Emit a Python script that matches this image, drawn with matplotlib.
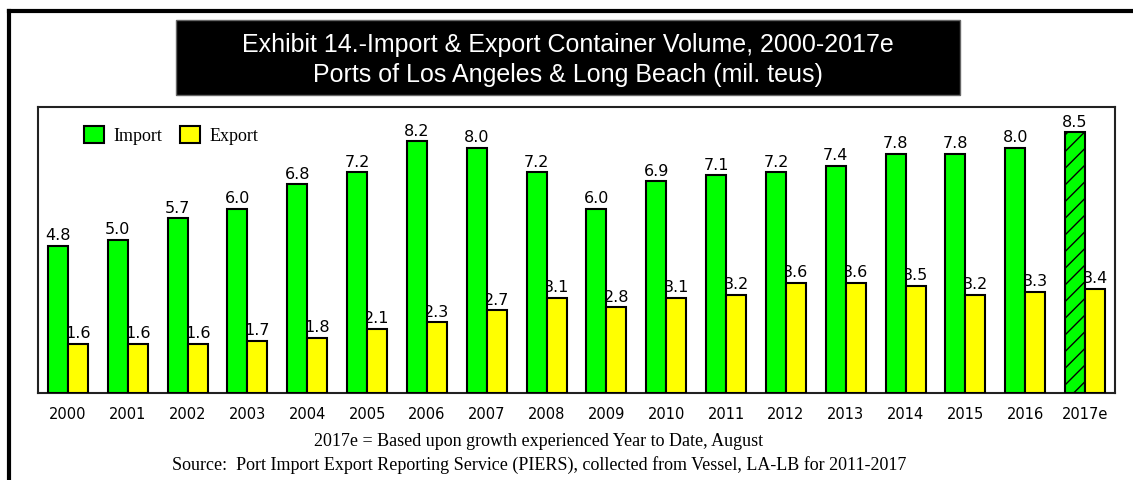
import matplotlib
matplotlib.use("Agg")
import matplotlib.pyplot as plt
from matplotlib.lines import Line2D
from matplotlib.patches import Rectangle, Patch
import numpy as np

years = ["2000", "2001", "2002", "2003", "2004", "2005", "2006", "2007", "2008",
         "2009", "2010", "2011", "2012", "2013", "2014", "2015", "2016", "2017e"]
imports = [4.8, 5.0, 5.7, 6.0, 6.8, 7.2, 8.2, 8.0, 7.2, 6.0, 6.9, 7.1, 7.2, 7.4, 7.8, 7.8, 8.0, 8.5]
exports = [1.6, 1.6, 1.6, 1.7, 1.8, 2.1, 2.3, 2.7, 3.1, 2.8, 3.1, 3.2, 3.6, 3.6, 3.5, 3.2, 3.3, 3.4]
title_lines = ["Exhibit 14.-Import & Export Container Volume, 2000-2017e",
               "Ports of Los Angeles & Long Beach (mil. teus)"]
note_lines = ["2017e = Based upon growth experienced Year to Date, August",
              "Source:  Port Import Export Reporting Service (PIERS), collected from Vessel, LA-LB for 2011-2017"]

W, H = 1133, 480
plt.rcParams["hatch.linewidth"] = 1.0
fig = plt.figure(figsize=(W / 100, H / 100), dpi=100)
fig.patch.set_facecolor("white")

def fx(px):
    return px / W

def fy(py):
    return 1 - py / H

# outer frame (left & top)
fig.add_artist(Line2D([fx(9), fx(9)], [fy(11), 0], color="black", lw=3, transform=fig.transFigure))
fig.add_artist(Line2D([fx(9), 1], [fy(11), fy(11)], color="black", lw=3, transform=fig.transFigure))

# title box
fig.add_artist(Rectangle((fx(176), fy(95)), fx(960) - fx(176), fy(20) - fy(95),
                         facecolor="black", edgecolor="#666666", lw=1, transform=fig.transFigure))
fig.text(fx(568), fy(45), title_lines[0], color="white", ha="center", va="center",
         fontsize=18, family="Liberation Sans")
fig.text(fx(568), fy(75), title_lines[1], color="white", ha="center", va="center",
         fontsize=18, family="Liberation Sans")

ax = fig.add_axes([fx(38), fy(393), fx(1115) - fx(38), fy(107) - fy(393)])
x = np.arange(len(years))
bw = 1 / 3
green = "#00FF00"
yellow = "#FFFF00"

ib = ax.bar(x - bw / 2, imports, width=bw, color=green, edgecolor="black", linewidth=1.5, zorder=3)
eb = ax.bar(x + bw / 2, exports, width=bw, color=yellow, edgecolor="black", linewidth=1.5, zorder=3)
ib[-1].set_hatch("//")

for xi, v in zip(x, imports):
    ax.text(xi - bw / 2, v + 0.08, f"{v:.1f}", ha="center", va="bottom", fontsize=11.5,
            family="DejaVu Sans", zorder=2)
for xi, v in zip(x, exports):
    ax.text(xi + bw / 2, v + 0.08, f"{v:.1f}", ha="center", va="bottom", fontsize=11.5,
            family="DejaVu Sans", zorder=2)

ax.set_xlim(-0.5, len(years) - 0.5)
ax.set_ylim(0, 9.32)
ax.set_yticks([])
ax.set_xticks(x)
ax.set_xticklabels(years, fontsize=10.5, family="DejaVu Sans", fontweight="medium")
ax.tick_params(axis="x", length=0, pad=10)
for s in ax.spines.values():
    s.set_linewidth(1.5)
    s.set_color("#222222")

handles = [Patch(facecolor=green, edgecolor="black", linewidth=1.5, label="Import"),
           Patch(facecolor=yellow, edgecolor="black", linewidth=1.5, label="Export")]
ax.legend(handles=handles, loc="upper left", bbox_to_anchor=(0.028, 0.99), ncol=2, frameon=False,
          prop={"family": "Liberation Serif", "size": 13}, handlelength=1.1, handleheight=1.1,
          handletextpad=0.5, columnspacing=1.0)

fig.text(fx(539), fy(442), note_lines[0], ha="center", va="center", fontsize=13, family="Liberation Serif")
fig.text(fx(539), fy(465), note_lines[1], ha="center", va="center", fontsize=13, family="Liberation Serif")

fig.savefig("out.png", dpi=100)
